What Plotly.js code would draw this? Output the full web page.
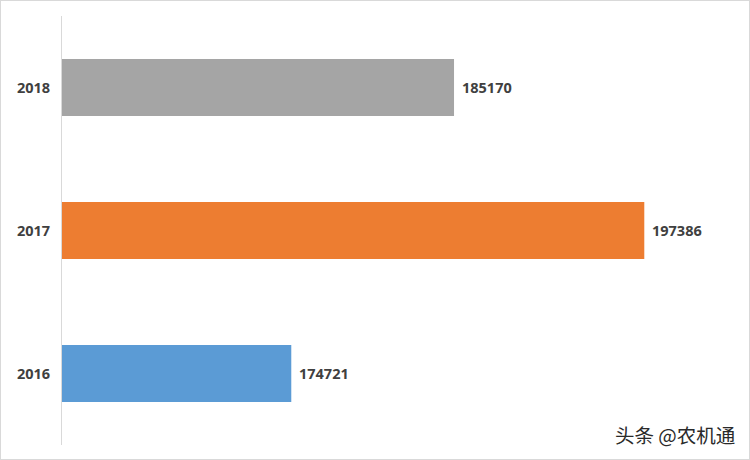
<!DOCTYPE html>
<html>
<head>
<meta charset="utf-8">
<script src="https://cdn.plot.ly/plotly-3.0.1.min.js"></script>
<style>
  html, body { margin: 0; padding: 0; background: #fff; }
  #wrap { position: relative; width: 750px; height: 460px; }
  #chart { width: 750px; height: 460px; }
  #frame { position: absolute; left: 0; top: 0; width: 748px; height: 458px; border: 1px solid #d9d9d9; pointer-events: none; }
</style>
</head>
<body>
<div id="wrap">
  <div id="chart"></div>
  <div id="frame"></div>
</div>
<script>
const years = ['2016', '2017', '2018'];
const values = [174721, 197386, 185170];
const barColors = ['#5B9BD5', '#ED7D31', '#A5A5A5'];
const watermark = '头条 @农机通';

const labelFont = { family: 'Open Sans, sans-serif', size: 14.5, color: '#404040', weight: 'bold' };

const trace = {
  type: 'bar',
  orientation: 'h',
  y: years,
  x: values,
  marker: { color: barColors },
  width: 0.4,
  hoverinfo: 'none'
};

const valueLabels = years.map((y, i) => ({
  xref: 'x', yref: 'y',
  x: values[i], y: i,
  xanchor: 'left', yanchor: 'middle',
  xshift: 6,
  text: String(values[i]),
  showarrow: false,
  font: labelFont
}));

const layout = {
  width: 750,
  height: 460,
  margin: { l: 62, r: 65, t: 16, b: 15 },
  paper_bgcolor: '#ffffff',
  plot_bgcolor: '#ffffff',
  showlegend: false,
  xaxis: {
    range: [160000, 200000],
    showgrid: false,
    zeroline: false,
    showticklabels: false,
    showline: false,
    fixedrange: true
  },
  yaxis: {
    type: 'category',
    categoryorder: 'array',
    categoryarray: years,
    range: [-0.5, years.length - 0.5],
    showgrid: false,
    zeroline: false,
    showline: true,
    linecolor: '#d9d9d9',
    linewidth: 1,
    ticks: 'outside',
    ticklen: 8,
    tickcolor: 'rgba(0,0,0,0)',
    tickfont: labelFont,
    fixedrange: true
  },
  annotations: valueLabels.concat([{
    xref: 'paper', yref: 'paper',
    x: 1.084, y: -0.014,
    xanchor: 'right', yanchor: 'bottom',
    text: watermark,
    showarrow: false,
    font: { family: 'Noto Sans CJK SC, sans-serif', size: 19.5, color: '#2a2a2a' }
  }])
};

Plotly.newPlot('chart', [trace], layout, { displayModeBar: false, staticPlot: true });
</script>
</body>
</html>
